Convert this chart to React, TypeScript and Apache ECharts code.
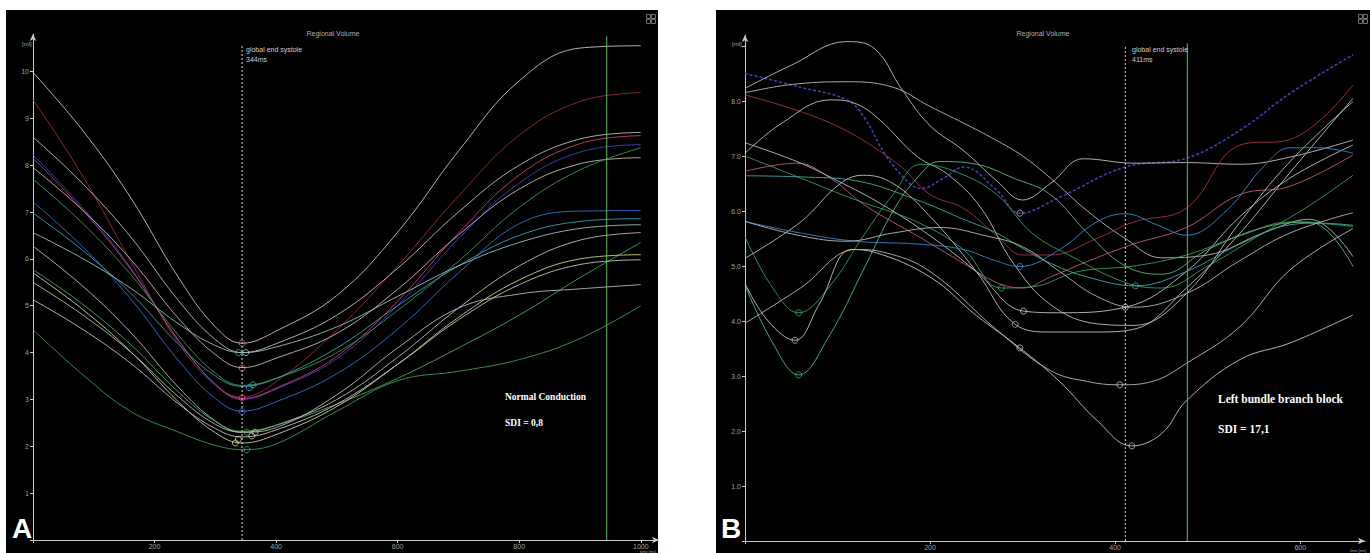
import React, { useEffect, useRef } from "react";
import * as echarts from "echarts";

// ---------- Panel A : Normal Conduction (time grid in ms) ----------
const tA = [0, 80, 160, 240, 300, 344, 400, 500, 600, 700, 800, 900, 1000];
const a1 = [9.98, 8.77, 7.32, 5.59, 4.55, 4.2, 4.46, 5.22, 6.57, 8.3, 9.8, 10.5, 10.55];
const a2 = [9.4, 7.81, 5.97, 4.19, 3.3, 3.05, 3.38, 4.48, 5.85, 7.34, 8.64, 9.36, 9.55];
const a3 = [8.6, 7.63, 6.48, 5.1, 4.28, 4.0, 4.19, 4.8, 5.8, 7.0, 8.0, 8.56, 8.7];
const a4 = [8.22, 7.12, 5.82, 4.25, 3.31, 3.0, 3.22, 3.87, 5.01, 6.43, 7.62, 8.28, 8.44];
const a5 = [8.15, 7.07, 5.79, 4.25, 3.33, 3.02, 3.24, 3.92, 5.1, 6.55, 7.79, 8.46, 8.63];
const a6 = [7.95, 7.06, 6.0, 4.72, 3.96, 3.68, 3.88, 4.41, 5.35, 6.51, 7.49, 8.03, 8.16];
const a7 = [7.7, 6.78, 5.68, 4.36, 3.56, 3.3, 3.45, 4.0, 4.9, 5.95, 7.1, 7.9, 8.37];
const a8 = [7.22, 6.28, 5.16, 3.82, 3.02, 2.75, 2.95, 3.55, 4.5, 5.7, 6.75, 7.02, 7.03];
const a9 = [6.98, 6.2, 5.28, 4.17, 3.5, 3.28, 3.45, 4.1, 5.0, 5.85, 6.5, 6.8, 6.86];
const a10 = [6.56, 6.02, 5.38, 4.61, 4.15, 4.0, 4.12, 4.55, 5.2, 5.85, 6.35, 6.65, 6.73];
const a11 = [6.27, 5.44, 4.44, 3.25, 2.54, 2.3, 2.45, 3.0, 3.9, 4.95, 5.85, 6.4, 6.56];
const a12 = [5.77, 5.05, 4.18, 3.15, 2.53, 2.32, 2.45, 2.9, 3.45, 4.1, 4.8, 5.6, 6.35];
const a13 = [5.7, 4.94, 4.03, 2.94, 2.29, 2.07, 2.25, 2.85, 3.75, 4.75, 5.55, 6.0, 6.09];
const a14 = [5.13, 4.51, 3.78, 2.9, 2.38, 2.2, 2.35, 2.9, 3.75, 4.7, 5.45, 5.88, 5.98];
const a15 = [5.5, 4.82, 4.02, 3.05, 2.47, 2.3, 2.4, 3.1, 4.1, 4.95, 5.25, 5.36, 5.45];
const a16 = [4.49, 3.55, 2.75, 2.3, 2.02, 1.93, 2.05, 2.75, 3.4, 3.6, 3.85, 4.3, 5.0];

const circlesA = [
  [344, 4.2], [338, 4.0], [350, 4.0], [344, 3.67], [362, 3.31], [356, 3.25],
  [344, 3.03], [344, 2.74], [352, 2.3], [365, 2.3], [360, 2.22], [338, 2.15],
  [333, 2.07], [352, 1.93],
];
const systoleA = 344;
const greenA = 944;

// ---------- Panel B : Left bundle branch block ([ms, ml] pairs) ----------
const b1 = [[0, 8.5], [60, 8.25], [110, 8.02], [128, 7.72], [153, 6.99], [178, 6.5], [190, 6.41], [215, 6.6], [236, 6.8], [272, 6.38], [297, 5.96], [340, 6.25], [411, 6.8], [477, 6.96], [535, 7.47], [589, 8.14], [657, 8.84]];
const b2 = [[0, 8.23], [50, 8.65], [110, 9.08], [140, 8.95], [170, 8.2], [200, 7.55], [236, 7.1], [272, 6.55], [300, 6.2], [330, 6.5], [366, 6.95], [420, 6.87], [477, 6.88], [535, 6.85], [589, 6.98], [657, 7.29]];
const b3 = [[0, 8.15], [50, 8.3], [110, 8.35], [160, 8.25], [200, 7.9], [236, 7.6], [270, 7.3], [300, 7.0], [330, 6.6], [370, 6.0], [411, 5.5], [450, 5.15], [500, 5.2], [560, 5.6], [610, 5.85], [657, 5.17]];
const b4 = [[0, 8.11], [92, 7.6], [164, 6.87], [200, 6.3], [236, 6.05], [272, 5.55], [300, 5.2], [330, 5.2], [380, 5.5], [420, 5.8], [477, 6.05], [535, 7.2], [589, 7.3], [657, 8.29]];
const b5 = [[0, 6.72], [56, 6.87], [92, 6.6], [130, 6.1], [186, 5.55], [236, 5.05], [272, 4.7], [300, 4.6], [330, 4.8], [380, 5.15], [420, 5.4], [477, 5.7], [535, 6.3], [589, 6.45], [657, 7.02]];
const b6 = [[0, 7.24], [56, 6.9], [100, 6.55], [150, 6.1], [200, 5.55], [250, 4.9], [301, 4.18], [340, 4.15], [411, 4.25], [477, 4.9], [535, 5.9], [589, 6.6], [657, 7.2]];
const b7 = [[0, 7.05], [40, 7.6], [92, 8.02], [120, 7.95], [146, 7.65], [186, 6.99], [218, 6.68], [254, 6.08], [290, 5.05], [330, 4.3], [380, 3.95], [420, 3.92], [477, 4.5], [535, 5.8], [589, 6.9], [657, 7.99]];
const b8 = [[0, 7.0], [60, 6.6], [120, 6.2], [186, 5.8], [236, 5.3], [277, 4.6], [310, 4.62], [360, 4.9], [420, 5.0], [477, 5.2], [535, 5.55], [589, 5.8], [657, 5.72]];
const b9 = [[0, 4.65], [30, 3.6], [58, 3.02], [90, 3.7], [130, 5.0], [160, 6.0], [186, 6.6], [210, 6.9], [250, 6.85], [290, 6.6], [330, 6.3], [370, 5.6], [411, 5.0], [450, 4.85], [500, 5.3], [560, 5.7], [610, 5.8], [657, 4.99]];
const b10 = [[0, 5.53], [30, 4.6], [58, 4.15], [90, 4.6], [130, 5.6], [160, 6.3], [190, 6.85], [230, 6.7], [272, 6.3], [310, 5.6], [350, 5.2], [411, 4.7], [450, 4.6], [500, 5.0], [560, 5.6], [610, 6.1], [657, 6.65]];
const b11 = [[0, 4.68], [25, 4.0], [54, 3.65], [80, 4.3], [115, 5.3], [140, 5.25], [200, 4.8], [250, 4.1], [297, 3.51], [340, 2.9], [380, 2.2], [418, 1.73], [450, 1.95], [477, 2.55], [535, 3.3], [589, 3.6], [657, 4.11]];
const b12 = [[0, 3.96], [60, 4.6], [120, 5.3], [150, 5.25], [200, 4.9], [272, 3.84], [330, 3.1], [370, 2.9], [405, 2.84], [440, 2.9], [477, 3.23], [535, 3.9], [589, 4.93], [657, 5.68]];
const b13 = [[0, 5.14], [60, 5.8], [103, 6.5], [128, 6.65], [160, 6.5], [200, 5.9], [250, 4.9], [292, 3.94], [330, 3.8], [380, 3.8], [420, 3.85], [477, 4.6], [535, 5.6], [589, 6.7], [657, 8.05]];
const b14 = [[0, 5.81], [60, 5.6], [120, 5.45], [186, 5.4], [236, 5.3], [270, 5.1], [297, 4.99], [340, 5.3], [380, 5.8], [411, 5.95], [445, 5.75], [477, 5.56], [520, 6.0], [560, 6.8], [589, 7.15], [620, 7.15], [657, 7.05]];
const b15 = [[0, 6.64], [60, 6.62], [120, 6.55], [186, 6.2], [236, 5.85], [272, 5.6], [297, 5.35], [330, 5.05], [370, 4.8], [422, 4.64], [477, 4.9], [535, 5.4], [589, 5.75], [620, 5.78], [657, 5.74]];
const b16 = [[0, 5.81], [60, 5.55], [110, 5.45], [160, 5.6], [210, 5.7], [260, 5.55], [300, 5.35], [340, 4.9], [380, 4.45], [420, 4.25], [477, 4.5], [535, 5.1], [589, 5.6], [657, 5.97]];

const circlesB = [
  [297, 5.96], [297, 4.99], [277, 4.6], [301, 4.18], [292, 3.94], [297, 3.51],
  [58, 4.15], [54, 3.65], [58, 3.02], [422, 4.64], [411, 4.25], [405, 2.84], [418, 1.73],
];
const systoleB = 411;
const greenB = 478;

// styles
const colorsA = ["#c4c4c4", "#9a2840", "#bcbcbc", "#4040c0", "#c84070", "#c8b8b0", "#3c9850", "#3470d0",
  "#3ca0b0", "#98c0b8", "#bcbcbc", "#48a858", "#ccd488", "#c0c0c0", "#b8b8b8", "#3c9850"];
const circleColorsA = ["#c08878", "#40a8c0", "#c8c8c8", "#c09080", "#50b8d0", "#40a8c8", "#e04888", "#4878d8",
  "#40b060", "#c8e090", "#d0d0b0", "#d8d8a0", "#d8d890", "#40b060"];
const colorsB = ["#4040b8", "#c0c0c0", "#b8b8b8", "#a83048", "#c05878", "#c0c0c0", "#b8c4b0", "#3c9c5c",
  "#58b878", "#3c9c5c", "#c4c4c4", "#b8b8b8", "#c0c0c0", "#3088d0", "#3ca8a8", "#b8b8b8"];
const circleColorsB = ["#c0c0e0", "#4090d8", "#40b060", "#c8c8c8", "#a8b8d8", "#c8c8c8", "#40b060", "#c8c8c8",
  "#40b060", "#40a8c8", "#c8c8c8", "#c8c8c8", "#c8c8c8"];

const seriesAData = [a1, a2, a3, a4, a5, a6, a7, a8, a9, a10, a11, a12, a13, a14, a15, a16];
const seriesBData = [b1, b2, b3, b4, b5, b6, b7, b8, b9, b10, b11, b12, b13, b14, b15, b16];

const axisCol = "#c8c8c8";
const labelCol = "#a0a0a0";
const greenCol = "#5cc05c";
const sans = "'Liberation Sans', Arial, sans-serif";
const serif = "'Liberation Serif', 'Times New Roman', serif";

function vLine(xi: number, x: number, yTop: number, style: any) {
  return {
    type: "line", xAxisIndex: xi, yAxisIndex: xi, silent: true, z: 4, symbol: "none",
    data: [[x, 0], [x, yTop]],
    lineStyle: style,
    emphasis: { disabled: true },
  };
}

function buildOption(): any {
  const series: any[] = [];
  seriesAData.forEach((vals, i) => {
    series.push({
      type: "line", xAxisIndex: 0, yAxisIndex: 0, smooth: 0.4, symbol: "none", silent: true,
      data: tA.map((t, j) => [t, vals[j]]),
      lineStyle: { width: 1, color: colorsA[i], opacity: 0.9 },
      z: 3,
    });
  });
  seriesBData.forEach((pts, i) => {
    series.push({
      type: "line", xAxisIndex: 1, yAxisIndex: 1, smooth: 0.4, symbol: "none", silent: true,
      data: pts,
      lineStyle: i === 0 ? { width: 1.6, color: colorsB[i], type: [3, 2] } : { width: 1, color: colorsB[i], opacity: 0.9 },
      z: 3,
    });
  });
  series.push(vLine(0, systoleA, 10.55, { type: [2, 2], color: "#e0e0e0", width: 1 }));
  series.push(vLine(0, greenA, 10.75, { type: "solid", color: greenCol, width: 1 }));
  series.push(vLine(1, systoleB, 9.0, { type: [2, 2], color: "#e0e0e0", width: 1 }));
  series.push(vLine(1, greenB, 9.05, { type: "solid", color: greenCol, width: 1 }));
  const circleStyle = (c: string) => ({ color: "rgba(0,0,0,0)", borderColor: c, borderWidth: 1 });
  series.push({
    type: "scatter", xAxisIndex: 0, yAxisIndex: 0, symbol: "circle", symbolSize: 6, silent: true,
    data: circlesA.map((p, i) => ({ value: p, itemStyle: circleStyle(circleColorsA[i]) })),
    z: 5,
  });
  series.push({
    type: "scatter", xAxisIndex: 1, yAxisIndex: 1, symbol: "circle", symbolSize: 6, silent: true,
    data: circlesB.map((p, i) => ({ value: p, itemStyle: circleStyle(circleColorsB[i]) })),
    z: 5,
  });

  const xAxisBase = (gi: number, max: number) => ({
    gridIndex: gi, type: "value", min: 0, max, interval: 200,
    axisLine: { lineStyle: { color: axisCol, width: 1 }, symbol: ["none", "arrow"], symbolSize: [5, 7] },
    axisTick: { length: 3, lineStyle: { color: axisCol } },
    axisLabel: {
      fontSize: 7, color: labelCol, fontFamily: sans, margin: 3,
      showMaxLabel: false,
      formatter: (v: number) => (v === 0 || v % 200 !== 0 ? "" : String(v)),
    },
    splitLine: { show: false },
  });
  const yAxisBase = (gi: number, max: number, fmt: (v: number) => string) => ({
    gridIndex: gi, type: "value", min: 0, max, interval: 1,
    axisLine: { show: true, lineStyle: { color: axisCol, width: 1 }, symbol: ["none", "arrow"], symbolSize: [5, 7] },
    axisTick: { show: true, length: 3, lineStyle: { color: axisCol } },
    axisLabel: { fontSize: 7, color: labelCol, fontFamily: sans, margin: 4, showMaxLabel: false, formatter: fmt },
    splitLine: { show: false },
  });

  const gridIcon = (x: number, y: number) => ({
    type: "group", left: x, top: y, children: [
      { type: "rect", shape: { x: 0, y: 0, width: 4, height: 4 }, style: { fill: "none", stroke: "#707070", lineWidth: 1 } },
      { type: "rect", shape: { x: 5, y: 0, width: 4, height: 4 }, style: { fill: "none", stroke: "#707070", lineWidth: 1 } },
      { type: "rect", shape: { x: 0, y: 5, width: 4, height: 4 }, style: { fill: "none", stroke: "#707070", lineWidth: 1 } },
      { type: "rect", shape: { x: 5, y: 5, width: 4, height: 4 }, style: { fill: "none", stroke: "#707070", lineWidth: 1 } },
    ],
  });

  const txt = (x: number, y: number, text: string, size: number, family: string, weight: string, color = "#ffffff", align = "left") => ({
    type: "text", x, y, z: 10, style: { text, fontSize: size, fontFamily: family, fontWeight: weight, fill: color, align, verticalAlign: "top" },
  });

  return {
    animation: false,
    backgroundColor: "#ffffff",
    grid: [
      { left: 33, top: 34, width: 626, height: 506 },
      { left: 745, top: 35, width: 620, height: 506 },
    ],
    xAxis: [xAxisBase(0, 1030), xAxisBase(1, 670)],
    yAxis: [
      yAxisBase(0, 10.8, (v: number) => (v === 0 || v % 1 !== 0 ? "" : String(v))),
      yAxisBase(1, 9.2, (v: number) => (v === 0 || v > 8.5 || v % 1 !== 0 ? "" : v.toFixed(1))),
    ],
    graphic: [
      { type: "rect", z: -100, shape: { x: 6, y: 10, width: 652, height: 543 }, style: { fill: "#000000" } },
      { type: "rect", z: -100, shape: { x: 716, y: 10, width: 654, height: 543 }, style: { fill: "#000000" } },
      gridIcon(644, 12),
      gridIcon(1356, 12),
      txt(333, 30, "Regional Volume", 7, sans, "normal", "#b0b0b0", "center"),
      txt(1043, 30, "Regional Volume", 7, sans, "normal", "#b0b0b0", "center"),
      txt(22, 41, "[ml]", 6, sans, "normal", "#a0a0a0"),
      txt(732, 41, "[ml]", 6, sans, "normal", "#a0a0a0"),
      txt(246, 46, "global end systole", 7, sans, "normal", "#d0d0d0"),
      txt(246, 56, "344ms", 7, sans, "normal", "#d0d0d0"),
      txt(1132, 46, "global end systole", 7, sans, "normal", "#d0d0d0"),
      txt(1132, 56, "411ms", 7, sans, "normal", "#d0d0d0"),
      txt(640, 549, "time [ms]", 4, sans, "normal", "#a0a0a0"),
      txt(1350, 548, "time [ms]", 4, sans, "normal", "#a0a0a0"),
      txt(505, 392, "Normal Conduction", 9.5, serif, "bold"),
      txt(505, 418, "SDI = 0,8", 9.5, serif, "bold"),
      txt(1218, 393, "Left bundle branch block", 11.5, serif, "bold"),
      txt(1218, 423, "SDI = 17,1", 11.5, serif, "bold"),
      txt(12, 514, "A", 28, sans, "bold"),
      txt(721, 514, "B", 28, sans, "bold"),
    ],
    series,
  };
}

export default function App() {
  const ref = useRef<HTMLDivElement>(null);
  useEffect(() => {
    if (!ref.current) return;
    const chart = echarts.init(ref.current, undefined, { renderer: "svg" });
    chart.setOption(buildOption());
    return () => chart.dispose();
  }, []);
  return <div ref={ref} style={{ position: "fixed", left: 0, top: 0, width: 1370, height: 553 }} />;
}
